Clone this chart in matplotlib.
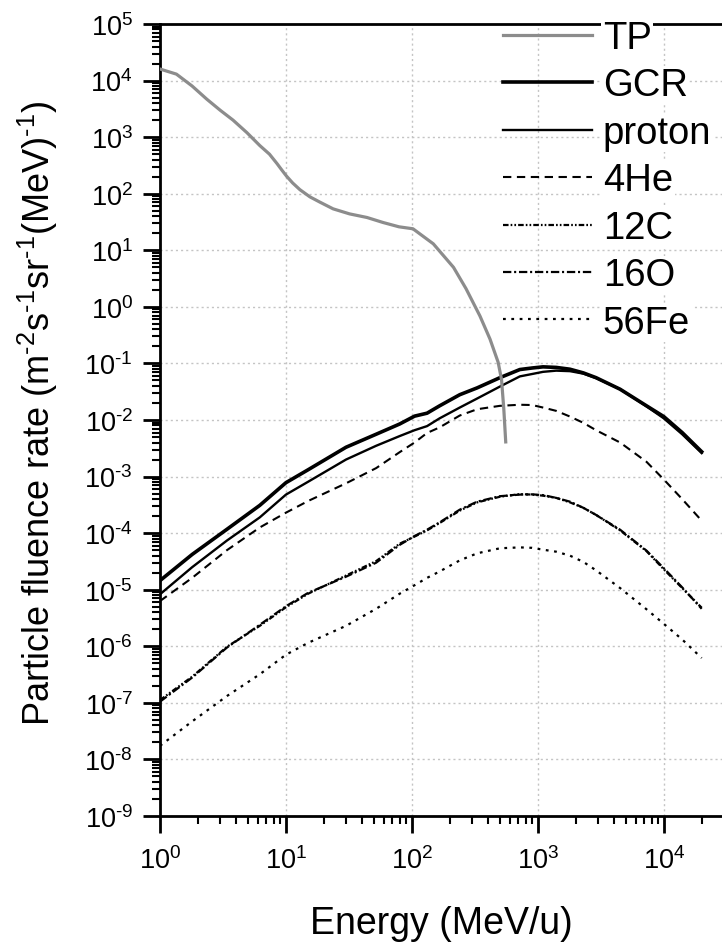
import numpy as np
import matplotlib
matplotlib.use('Agg')
import matplotlib.pyplot as plt
from matplotlib.ticker import LogLocator, NullFormatter, FuncFormatter

plt.rcParams['font.family'] = ['Liberation Sans', 'DejaVu Sans']
plt.rcParams['mathtext.fontset'] = 'custom'
plt.rcParams['mathtext.rm'] = 'Liberation Sans'
plt.rcParams['mathtext.it'] = 'Liberation Sans:italic'
plt.rcParams['mathtext.bf'] = 'Liberation Sans:bold'
plt.rcParams['lines.scale_dashes'] = False

# trapped protons
tp_energy = [1.0, 1.35, 1.8, 2.35, 3.0, 3.8, 4.9, 6.2, 7.4, 8.5, 9.3, 10.1, 11.3, 12.9, 15.5,
             18.6, 23.7, 32, 44, 59, 79, 102, 148, 214, 269, 347, 417, 484, 515, 537, 556]
tp_flux = [1.6e4, 1.3e4, 8.0e3, 4.7e3, 3.0e3, 2.0e3, 1.2e3, 710, 500, 340, 260, 205, 155,
           118, 88, 71, 54, 44, 38, 31, 26, 24, 13, 5.0, 2.1, 0.69, 0.27, 0.105, 0.052,
           0.0155, 0.0041]

# galactic cosmic rays (MeV/u)
energy = [1, 1.8, 3.4, 6.2, 10, 15, 30, 52, 80, 105, 132, 166, 240, 330, 500, 720, 900,
          1100, 1400, 1800, 2300, 2900, 4500, 7300, 10000, 14000, 20000]
gcr = [1.45e-5, 4.2e-5, 1.17e-4, 3.1e-4, 7.8e-4, 1.32e-3, 3.3e-3, 5.6e-3, 8.5e-3, 1.17e-2,
       1.32e-2, 1.78e-2, 2.8e-2, 3.7e-2, 5.6e-2, 7.8e-2, 8.3e-2, 8.7e-2, 8.5e-2, 7.9e-2,
       6.8e-2, 5.6e-2, 3.5e-2, 1.78e-2, 1.15e-2, 6.0e-3, 2.75e-3]
proton = [8.3e-6, 2.5e-5, 7.4e-5, 1.9e-4, 4.8e-4, 8.1e-4, 2.0e-3, 3.5e-3, 5.2e-3, 6.6e-3,
          7.8e-3, 1.07e-2, 1.66e-2, 2.4e-2, 3.9e-2, 5.9e-2, 6.5e-2, 7.1e-2, 7.45e-2, 7.3e-2,
          6.6e-2, 5.5e-2, 3.5e-2, 1.74e-2, 1.07e-2, 5.6e-3, 2.6e-3]
he4 = [6.3e-6, 1.62e-5, 5.0e-5, 1.26e-4, 2.3e-4, 3.7e-4, 7.6e-4, 1.41e-3, 2.7e-3, 4.0e-3,
       5.9e-3, 7.4e-3, 1.2e-2, 1.55e-2, 1.78e-2, 1.86e-2, 1.84e-2, 1.66e-2, 1.45e-2, 1.15e-2,
       8.9e-3, 6.6e-3, 4.0e-3, 1.82e-3, 8.9e-4, 4.0e-4, 1.66e-4]
c12 = [1.12e-7, 2.9e-7, 9.8e-7, 2.3e-6, 4.9e-6, 8.5e-6, 1.78e-5, 3.2e-5, 6.5e-5, 8.7e-5,
       1.12e-4, 1.51e-4, 2.5e-4, 3.5e-4, 4.4e-4, 4.9e-4, 4.8e-4, 4.6e-4, 4.2e-4, 3.5e-4,
       2.8e-4, 2.1e-4, 1.12e-4, 4.8e-5, 2.3e-5, 1.07e-5, 4.8e-6]
o16 = [1.05e-7, 2.8e-7, 9.5e-7, 2.4e-6, 5.1e-6, 8.8e-6, 1.7e-5, 3.0e-5, 6.2e-5, 8.9e-5,
       1.15e-4, 1.55e-4, 2.6e-4, 3.6e-4, 4.5e-4, 4.8e-4, 4.85e-4, 4.7e-4, 4.2e-4, 3.6e-4,
       2.8e-4, 2.1e-4, 1.15e-4, 4.9e-5, 2.4e-5, 1.1e-5, 4.6e-6]
fe56 = [1.74e-8, 4.7e-8, 1.32e-7, 3.2e-7, 7.1e-7, 1.15e-6, 2.3e-6, 4.6e-6, 8.5e-6, 1.2e-5,
        1.62e-5, 2.1e-5, 3.3e-5, 4.4e-5, 5.4e-5, 5.6e-5, 5.5e-5, 5.1e-5, 4.7e-5, 4.0e-5,
        3.1e-5, 2.2e-5, 1.07e-5, 4.5e-6, 2.5e-6, 1.32e-6, 6.2e-7]


def decada(v, pos):
    # 10^n con guion corto como en la figura original
    n = int(round(np.log10(v)))
    if n < 0:
        return r'$\mathdefault{10^{\text{-}%d}}$' % (-n)
    return r'$\mathdefault{10^{%d}}$' % n


fig = plt.figure(figsize=(7.22, 9.45), dpi=100)
ax = fig.add_axes([160 / 722, 1 - 817 / 945, 562 / 722, 792 / 945])

ax.plot(tp_energy, tp_flux, color='#8c8c8c', lw=2.3, label='TP', zorder=3)
ax.plot(energy, gcr, color='black', lw=2.6, label='GCR')
ax.plot(energy, proton, color='black', lw=1.7, label='proton')
ax.plot(energy, he4, color='black', lw=1.5, dashes=(6, 4), label='4He')
ax.plot(energy, c12, color='black', lw=1.6, dashes=(4, 1.5, 1.2, 1.5, 1.2, 1.5), label='12C')
ax.plot(energy, o16, color='black', lw=1.6, dashes=(6, 2, 1.5, 2), label='16O')
ax.plot(energy, fe56, color='black', lw=1.6, dashes=(2, 4), label='56Fe')

ax.set_xscale('log')
ax.set_yscale('log')
ax.set_xlim(1, 2.9e4)
ax.set_ylim(1e-9, 1e5)

for a in (ax.xaxis, ax.yaxis):
    a.set_major_locator(LogLocator(base=10, numticks=30))
    a.set_major_formatter(FuncFormatter(decada))
    a.set_minor_locator(LogLocator(base=10, subs=np.arange(2, 10), numticks=30))
    a.set_minor_formatter(NullFormatter())

ax.grid(True, which='major', color='#c4c4c4', lw=1.0, dashes=(1.5, 2.2))
ax.set_axisbelow(True)

for s in ('left', 'bottom', 'top'):
    ax.spines[s].set_linewidth(2.0)
ax.spines['right'].set_visible(False)

ax.tick_params(which='major', direction='out', length=12, width=2, labelsize=19.5,
               top=False, right=False)
ax.tick_params(which='minor', direction='out', length=6, width=1.5, top=False, right=False)
ax.tick_params(axis='x', which='major', pad=9.5)
ax.tick_params(axis='y', which='major', pad=7.5)

ax.set_xlabel('Energy (MeV/u)', fontsize=27)
ax.xaxis.set_label_coords(0.5, -0.112)
ax.set_ylabel(r'Particle fluence rate (m$^{\text{-}2}$s$^{\text{-}1}$sr$^{\text{-}1}$(MeV)$^{\text{-}1}$)',
              fontsize=26)
ax.yaxis.set_label_coords(-0.178, 0.51)

leg = ax.legend(loc='upper left', bbox_to_anchor=(0.610, 1.005), fontsize=27.5,
                frameon=False, borderpad=0, borderaxespad=0, handlelength=2.33,
                handletextpad=0.29, labelspacing=0.30)
leg.set_zorder(10)
for t in leg.get_texts():
    t.set_bbox(dict(facecolor='white', edgecolor='none', pad=1))

fig.savefig('out.png', dpi=100)
